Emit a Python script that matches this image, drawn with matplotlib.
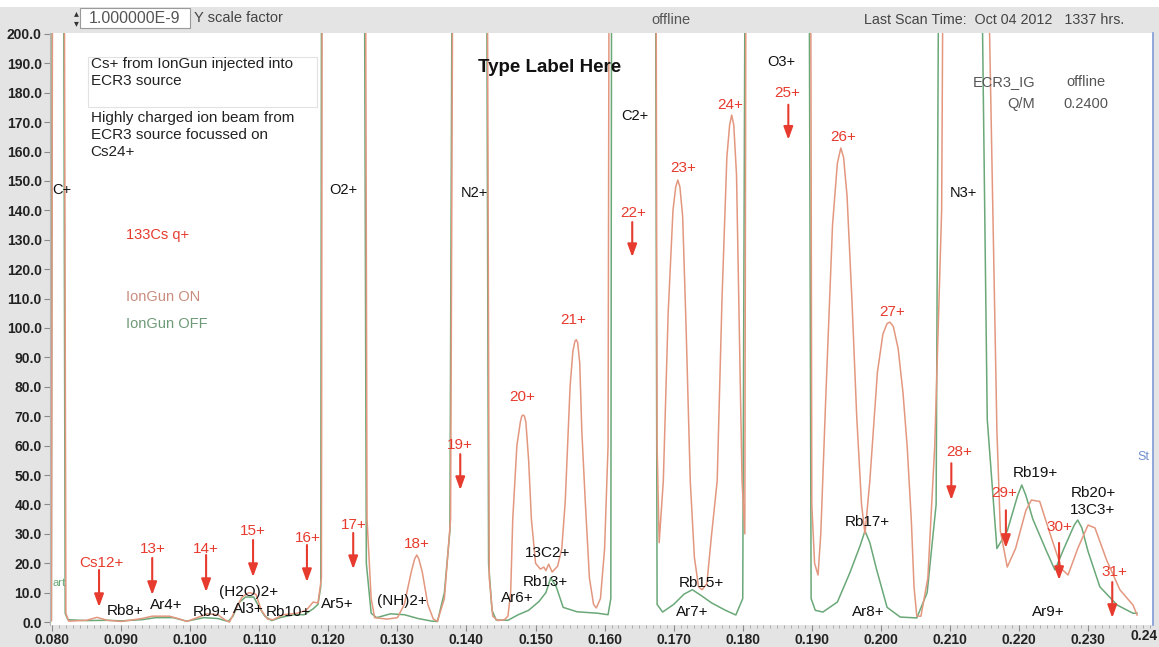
# Espectro Q/M da fonte ECR3 com e sem injeção de Cs+ (IonGun ON / OFF).
import numpy as np
import matplotlib.pyplot as plt
from matplotlib.patches import Rectangle

plt.rcParams['font.family'] = ['Liberation Sans', 'DejaVu Sans']

# Curva com IonGun ligado (Q/M, corrente em 1e-9 A)
on_x = [0.0799, 0.0802, 0.0816, 0.0820, 0.0824, 0.0850, 0.0865, 0.0880, 0.0900, 0.0930,
        0.0945, 0.0970, 0.0985, 0.0995, 0.1010, 0.1025, 0.1040, 0.1050, 0.1057, 0.1065,
        0.1075, 0.1085, 0.1095, 0.1103, 0.1112, 0.1120, 0.1135, 0.1155, 0.1168, 0.1178,
        0.1185, 0.1190, 0.1192, 0.1252, 0.1256, 0.1262, 0.1267, 0.1285, 0.1300, 0.1310,
        0.1320, 0.1325, 0.1328, 0.1331, 0.1336, 0.1344, 0.1352, 0.1358, 0.1368, 0.1377,
        0.1383, 0.1428, 0.1433, 0.1438, 0.1445, 0.1455, 0.1460, 0.1464, 0.1467, 0.1473,
        0.1478, 0.1480, 0.1482, 0.1484, 0.1486, 0.1490, 0.1494, 0.1500, 0.1507, 0.1512,
        0.1515, 0.1519, 0.1524, 0.1532, 0.1538, 0.1543, 0.1550, 0.1554, 0.1557, 0.1559,
        0.1561, 0.1564, 0.1567, 0.1572, 0.1578, 0.1584, 0.1588, 0.1594, 0.1600, 0.1605,
        0.1608, 0.1673, 0.1676, 0.1679, 0.1685, 0.1692, 0.1699, 0.1703, 0.1706, 0.1709,
        0.1713, 0.1718, 0.1724, 0.1730, 0.1736, 0.1741, 0.1748, 0.1755, 0.1763, 0.1770,
        0.1777, 0.1781, 0.1784, 0.1787, 0.1791, 0.1795, 0.1799, 0.1803, 0.1806, 0.1897,
        0.1900, 0.1904, 0.1909, 0.1913, 0.1920, 0.1930, 0.1937, 0.1942, 0.1946, 0.1951,
        0.1958, 0.1965, 0.1972, 0.1977, 0.1984, 0.1995, 0.2003, 0.2009, 0.2013, 0.2018,
        0.2025, 0.2032, 0.2038, 0.2044, 0.2048, 0.2052, 0.2058, 0.2068, 0.2078, 0.2088,
        0.2094, 0.2155, 0.2157, 0.2168, 0.2173, 0.2183, 0.2195, 0.2210, 0.2218, 0.2230,
        0.2245, 0.2262, 0.2271, 0.2285, 0.2300, 0.2310, 0.2327, 0.2346, 0.2365, 0.2371]
on_y = [0.5, 400, 400, 3, 0.3, 0.6, 1.6, 0.6, 0.2, 1.2,
        2.0, 2.0, 1.0, 0.2, 1.5, 2.8, 2.5, 0.8, 0.0, 4.0,
        8.5, 10.0, 9.5, 4.0, 1.0, 0.8, 2.5, 3.0, 4.0, 6.8,
        6.5, 15, 400, 400, 35, 8, 1.5, 1.0, 1.5, 6,
        17, 21.5, 22.8, 21.5, 17, 6, 1.0, 0.3, 8, 35,
        400, 400, 15, 2, 0.5, 0.8, 2, 10, 35, 60,
        68, 70, 70.4, 70, 68, 55, 35, 20, 18, 18.7,
        17.5, 19.7, 17, 19, 25, 41, 80, 92, 95.5, 96,
        95, 88, 65, 41, 15, 6, 4.8, 8, 25, 60,
        400, 400, 60, 27, 48, 105, 140, 148, 150.3, 148,
        138, 100, 48, 22, 12, 11, 13, 30, 48, 110,
        158, 169, 172.4, 169, 152, 100, 48, 30, 400, 400,
        40, 20, 16, 30, 75, 135, 156, 161.2, 158, 145,
        110, 70, 40, 30, 48, 85, 98, 101.5, 102, 100.5,
        93, 78, 60, 35, 12, 2, 2, 15, 60, 140,
        400, 400, 205, 65, 31, 18.7, 25, 38, 41.5, 41,
        30, 18, 16, 25, 33, 32, 21, 11, 5.8, 2.4]

# Curva com IonGun desligado
off_x = [0.0799, 0.0801, 0.0815, 0.0819, 0.0823, 0.0850, 0.0880, 0.0900, 0.0930, 0.0950,
         0.0975, 0.0995, 0.1020, 0.1040, 0.1055, 0.1062, 0.1070, 0.1080, 0.1092, 0.1100,
         0.1108, 0.1118, 0.1130, 0.1150, 0.1165, 0.1178, 0.1185, 0.1189, 0.1191, 0.1250,
         0.1255, 0.1262, 0.1270, 0.1290, 0.1310, 0.1330, 0.1350, 0.1358, 0.1368, 0.1376,
         0.1382, 0.1427, 0.1432, 0.1437, 0.1443, 0.1460, 0.1475, 0.1490, 0.1505, 0.1515,
         0.1522, 0.1530, 0.1540, 0.1560, 0.1590, 0.1605, 0.1609, 0.1611, 0.1672, 0.1676,
         0.1684, 0.1700, 0.1715, 0.1727, 0.1740, 0.1755, 0.1775, 0.1790, 0.1800, 0.1806,
         0.1894, 0.1899, 0.1905, 0.1916, 0.1937, 0.1955, 0.1970, 0.1977, 0.1984, 0.1994,
         0.2009, 0.2028, 0.2052, 0.2067, 0.2080, 0.2087, 0.2145, 0.2147, 0.2154, 0.2168,
         0.2183, 0.2198, 0.2204, 0.2210, 0.2220, 0.2240, 0.2252, 0.2265, 0.2280, 0.2285,
         0.2291, 0.2300, 0.2317, 0.2342, 0.2365, 0.2371]
off_y = [0.5, 400, 400, 3, 0.8, 0.5, 0.6, 0.4, 0.8, 1.5,
         1.5, 0.3, 1.5, 1.2, 0.2, 2, 6.5, 8.5, 8.5, 5,
         2, 0.5, 1.5, 2.5, 2.5, 4.5, 6, 12, 400, 400,
         20, 3, 1.5, 2.8, 2.5, 1.2, 0.3, 0.2, 10, 31,
         400, 400, 20, 4, 0.7, 0.6, 2.5, 4, 7, 10,
         15, 12, 5, 3.5, 3, 2.5, 8, 400, 400, 6,
         3.4, 6, 9.5, 11, 9, 6.5, 4, 2.4, 8, 400,
         400, 8, 4, 3.4, 6.8, 16.7, 26, 31, 27, 17.7,
         5, 1.7, 1.4, 10, 40, 400, 400, 205, 69, 25,
         31, 43, 46.6, 43, 35, 24, 17.7, 25, 33, 34.7,
         32, 24, 12, 5.8, 3, 3]

# Picos grandes (texto alinhado à esquerda)
big_names = ['C+', 'O2+', 'N2+', 'C2+', 'O3+', 'N3+']
big_x = [0.0800, 0.1202, 0.1392, 0.1624, 0.1835, 0.2100]
big_y = [147, 147, 146, 172, 190.5, 146]

# Picos de fundo identificados (texto centrado)
bg_names = ['Rb8+', 'Ar4+', 'Rb9+', '(H2O)2+', 'Al3+', 'Rb10+', 'Ar5+', '(NH)2+', 'Ar6+',
            '13C2+', 'Rb13+', 'Rb15+', 'Ar7+', 'Rb17+', 'Ar8+', 'Rb19+', 'Rb20+', '13C3+', 'Ar9+']
bg_x = [0.0906, 0.0965, 0.1030, 0.1084, 0.1084, 0.1142, 0.1213, 0.1307, 0.1473,
        0.1518, 0.1514, 0.1740, 0.1727, 0.1980, 0.1982, 0.2223, 0.2307, 0.2307, 0.2243]
bg_y = [3.7, 5.8, 3.4, 10.2, 4.4, 3.4, 6.1, 7.0, 8.2,
        23.5, 13.6, 13.3, 3.4, 34, 3.4, 50.7, 44, 38, 3.4]

# Estados de carga do 133Cs
cs_names = ['Cs12+', '13+', '14+', '15+', '16+', '17+', '18+', '19+', '20+', '21+', '22+',
            '23+', '24+', '25+', '26+', '27+', '28+', '29+', '30+', '31+']
cs_x = [0.0872, 0.0946, 0.1022, 0.1091, 0.1171, 0.1237, 0.1328, 0.1391, 0.1480, 0.1554,
        0.1641, 0.1714, 0.1782, 0.1864, 0.1945, 0.2016, 0.2113, 0.2178, 0.2259, 0.2338]
cs_y = [20, 24.8, 24.8, 31, 28.6, 33, 26.5, 60.2, 76.5, 102.7,
        139, 154.4, 175.9, 180, 165, 105.4, 57.8, 43.9, 32.3, 17]

# Setas para os estados de carga sem pico visível
arrow_x = [0.0868, 0.0945, 0.1023, 0.1091, 0.1169, 0.1236, 0.1391, 0.1640, 0.1866,
           0.2102, 0.2181, 0.2258, 0.2335]
arrow_top = [17.7, 21.8, 22.8, 27.9, 26.2, 30.3, 57.1, 136, 175.9, 54, 38, 26.9, 13.6]
arrow_tip = [5.1, 9.2, 10.2, 15.3, 13.6, 18.0, 44.9, 124.1, 164, 41.5, 25.2, 14.3, 1.4]

W, H = 1159, 647
red = '#e63b2e'
c_on = '#e3977f'
c_off = '#6aa878'

fig = plt.figure(figsize=(W / 100, H / 100), dpi=100, facecolor='#e4e4e4')
fig.add_artist(Rectangle((0, 1 - 7 / H), 1, 7 / H, transform=fig.transFigure,
                         facecolor='white', edgecolor='none'))
ax = fig.add_axes([50 / W, 1 - 625 / H, (1153 - 50) / W, (625 - 33) / H])
ax.set_facecolor('white')

ax.plot(off_x, off_y, color=c_off, lw=1.1)
ax.plot(on_x, on_y, color=c_on, lw=1.1)

ax.set_xlim(0.0797, 0.2394)
ax.set_ylim(-1, 200.3)
ax.set_xticks(np.arange(0.08, 0.2395, 0.01))
ax.set_xticks(np.arange(0.080, 0.2395, 0.001), minor=True)
ax.set_xticklabels(['%.3f' % v for v in np.arange(0.08, 0.2395, 0.01)])
ax.set_yticks(np.arange(0, 201, 10))
ax.set_yticklabels(['%.1f' % v for v in np.arange(0, 201, 10)])
ax.tick_params(axis='both', which='major', direction='out', length=4, width=0.8,
               color='#8a8a8a', pad=2, labelsize=10, labelcolor='#222222')
ax.tick_params(axis='x', which='minor', direction='out', length=2, width=0.6, color='#a0a0a0')
plt.setp(ax.get_xticklabels() + ax.get_yticklabels(), fontweight='bold')
ax.spines['top'].set_visible(False)
ax.spines['bottom'].set_visible(False)
ax.spines['left'].set_color('#b5b5b5')
ax.spines['right'].set_color('#7f9ad6')
ax.spines['right'].set_linewidth(1.2)
# último rótulo do eixo x, cortado na borda como no original
fig.text(1158 / W, 1 - 636 / H, '0.24', ha='right', va='center', fontsize=10,
         fontweight='bold', color='#222222')

for name, x, y in zip(big_names, big_x, big_y):
    ax.text(x, y, name, ha='left', va='center', fontsize=10.5, color='#111111')
for name, x, y in zip(bg_names, bg_x, bg_y):
    ax.text(x, y, name, ha='center', va='center', fontsize=11, color='#111111')
for name, x, y in zip(cs_names, cs_x, cs_y):
    ax.text(x, y, name, ha='center', va='center', fontsize=11, color=red)
for x, y0, y1 in zip(arrow_x, arrow_top, arrow_tip):
    ax.annotate('', xy=(x, y1), xytext=(x, y0),
                arrowprops=dict(arrowstyle='-|>,head_length=0.55,head_width=0.2',
                                color=red, lw=1.5, shrinkA=0, shrinkB=0,
                                mutation_scale=14))

# Textos de anotação
ax.add_patch(Rectangle((0.0852, 175.2), 0.0332, 17.0, facecolor='none',
                       edgecolor='#e2e2e2', lw=0.8))
ax.text(0.0856, 192.2, 'Cs+ from IonGun injected into\nECR3 source', ha='left', va='top',
        fontsize=11, color='#222222', linespacing=1.3)
ax.text(0.0856, 173.8, 'Highly charged ion beam from\nECR3 source focussed on\nCs24+',
        ha='left', va='top', fontsize=11, color='#222222', linespacing=1.26)
ax.text(0.1520, 188.4, 'Type Label Here', ha='center', va='center', fontsize=13.5,
        fontweight='bold', color='#111111')
ax.text(0.0907, 131.6, '133Cs q+', ha='left', va='center', fontsize=10.5, color=red)
ax.text(0.0907, 110.5, 'IonGun ON', ha='left', va='center', fontsize=10.5, color='#c98c7e')
ax.text(0.0907, 101.4, 'IonGun OFF', ha='left', va='center', fontsize=10.5, color='#6f9a78')
ax.text(0.2223, 183.7, 'ECR3_IG', ha='right', va='center', fontsize=10.5, color='#555555')
ax.text(0.2223, 176.2, 'Q/M', ha='right', va='center', fontsize=10.5, color='#555555')
ax.text(0.2297, 183.7, 'offline', ha='center', va='center', fontsize=10.5, color='#555555')
ax.text(0.2297, 176.2, '0.2400', ha='center', va='center', fontsize=10.5, color='#555555')
ax.text(0.0800, 13.3, 'art', ha='left', va='center', fontsize=8, color=c_off)
ax.text(0.2372, 56, 'St', ha='left', va='center', fontsize=9, color='#6f8fd0', clip_on=True)

# Barra superior
fig.text(76 / W, 1 - 13 / H, '▴', ha='center', va='center', fontsize=7, color='#333333')
fig.text(76 / W, 1 - 23 / H, '▾', ha='center', va='center', fontsize=7, color='#333333')
fig.add_artist(Rectangle((80 / W, 1 - 28 / H), (190 - 80) / W, 20 / H,
                         transform=fig.transFigure, facecolor='white',
                         edgecolor='#9a9a9a', lw=0.8))
fig.text(89 / W, 1 - 18.5 / H, '1.000000E-9', ha='left', va='center', fontsize=11.5,
         color='#555555')
fig.text(194 / W, 1 - 18.5 / H, 'Y scale factor', ha='left', va='center', fontsize=10.5,
         color='#444444')
fig.text(671 / W, 1 - 20.5 / H, 'offline', ha='center', va='center', fontsize=10.5,
         color='#555555')
fig.text(864 / W, 1 - 20.5 / H, 'Last Scan Time:  Oct 04 2012   1337 hrs.', ha='left',
         va='center', fontsize=10.3, color='#444444')

fig.savefig('out.png', dpi=100, facecolor=fig.get_facecolor())
